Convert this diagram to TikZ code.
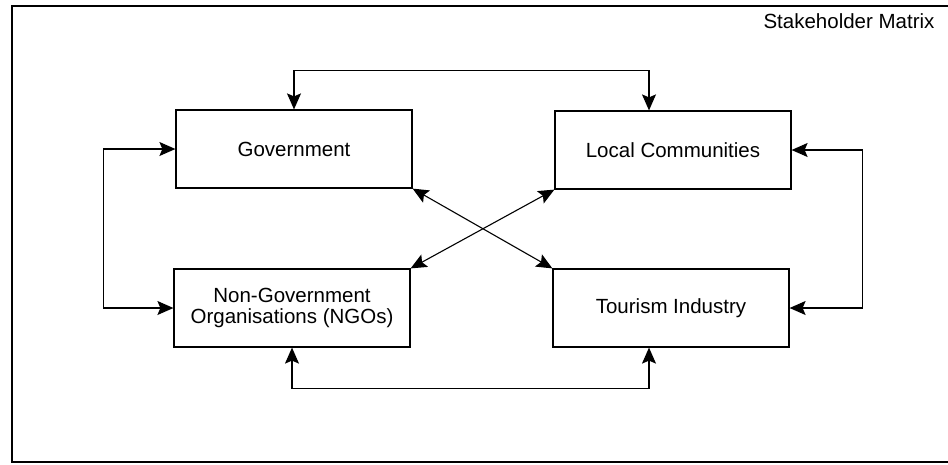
\documentclass[tikz,border=0pt]{standalone}
\usepackage{fontspec}
\setmainfont{Liberation Sans}
\usetikzlibrary{arrows.meta}

\begin{document}
\begin{tikzpicture}[x=1pt,y=-1pt,
	party/.style={draw,line width=1.2pt,minimum width=236pt,minimum height=78pt,align=center,font=\fontsize{20.5}{21}\selectfont},
	link/.style={{Stealth[length=16pt,width=14pt,inset=3pt]}-{Stealth[length=16pt,width=14pt,inset=3pt]},line width=1.1pt}]
	\useasboundingbox (0,0) rectangle (948,464);
	\draw[line width=1.1pt] (948,6) -- (12,6) -- (12,462) -- (948,462);
	%
	\node[anchor=base east,font=\fontsize{20.5}{21}\selectfont] (title) at (938,28) {Stakeholder Matrix};
	%
	\node[party] (gov) at (294,149) {Government};
	\node[party] (local) at (673,150) {Local Communities};
	\node[party] (ngo) at (292,308) {Non-Government\\Organisations (NGOs)};
	\node[party] (tour) at (671,308) {Tourism Industry};
	%
	\draw[link] (gov.north) -- ++(0,-39) -| ([xshift=-24pt]local.north);
	\draw[link] (ngo.south) -- ++(0,41) -| ([xshift=-22pt]tour.south);
	\draw[link] (gov.west) -- ++(-72,0) |- (ngo.west);
	\draw[link] (local.east) -- ++(71,0) |- (tour.east);
	%
	\draw[link] (gov.south east) -- (tour.north west);
	\draw[link] (local.south west) -- (ngo.north east);
\end{tikzpicture}
\end{document}
